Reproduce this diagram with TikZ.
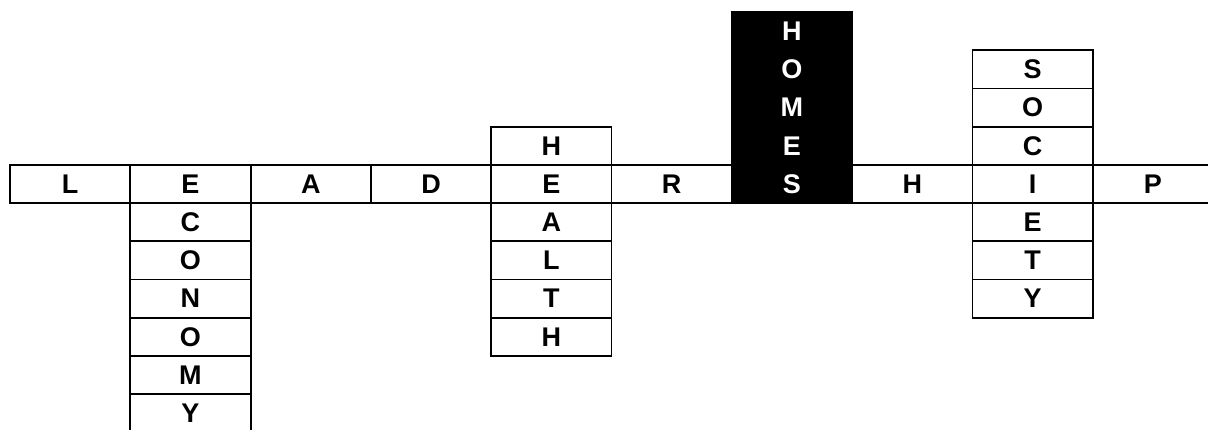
\documentclass[tikz,border=0pt]{standalone}
\usepackage{fontspec}
\setmainfont{Liberation Sans}
\begin{document}
\begin{tikzpicture}[x=1pt, y=-1pt,
    cell/.style={draw, line width=1.8pt, minimum width=120.3pt, minimum height=38.2pt,
      inner sep=0pt, font=\fontsize{27}{28}\selectfont\bfseries},
    dark/.style={cell, fill=black, text=white}]
  \useasboundingbox (0,0) rectangle (1208,430);
  \clip (0,0) rectangle (1208,430);
  % main row
  \foreach \ch [count=\i from 0] in {L,E,A,D,E,R,S,H,I,P}
    \node[cell] (main\i) at (70.15+120.3*\i, 184) {\ch};
  % economy
  \foreach \ch [count=\r] in {C,O,N,O,M,Y}
    \node[cell] (econ\r) at (190.45, 184+38.2*\r) {\ch};
  % health
  \node[cell] (health0) at (551.35, 145.8) {H};
  \foreach \ch [count=\r] in {A,L,T,H}
    \node[cell] (health\r) at (551.35, 184+38.2*\r) {\ch};
  % homes
  \foreach \ch [count=\r from -4] in {H,O,M,E,S}
    \node[dark] (homes\r) at (791.95, 184+38.2*\r) {\ch};
  % society
  \foreach \ch [count=\r from -3] in {S,O,C}
    \node[cell] (soc\r) at (1032.55, 184+38.2*\r) {\ch};
  \foreach \ch [count=\r] in {E,T,Y}
    \node[cell] (soc\r) at (1032.55, 184+38.2*\r) {\ch};
\end{tikzpicture}
\end{document}
